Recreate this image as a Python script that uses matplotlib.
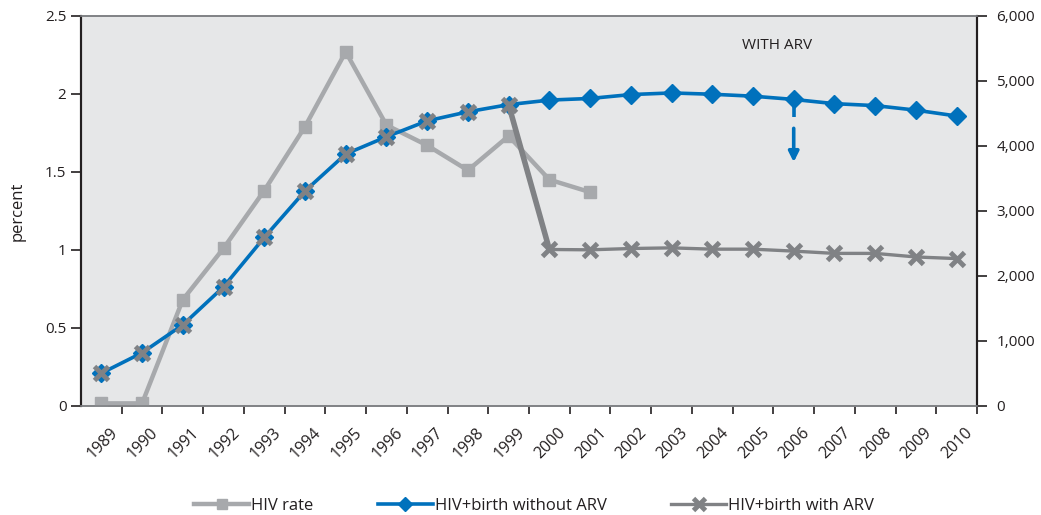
import matplotlib
matplotlib.use("Agg")
import matplotlib.pyplot as plt
import numpy as np

plt.rcParams['font.family'] = ['Open Sans', 'DejaVu Sans']

years = [str(y) for y in range(1989, 2011)]

# left axis (percent)
hiv_rate = [0.015, 0.015, 0.68, 1.01, 1.38, 1.79, 2.27, 1.80, 1.67, 1.51, 1.73, 1.45, 1.37]

# right axis (counts)
birth_no_arv = [500, 815, 1245, 1830, 2590, 3305, 3875, 4140, 4385, 4525, 4635,
                4705, 4730, 4790, 4815, 4795, 4765, 4715, 4650, 4620, 4550, 4460]
birth_arv = [500, 815, 1245, 1830, 2590, 3305, 3875, 4140, 4385, 4525, 4635,
             2405, 2400, 2420, 2430, 2410, 2410, 2380, 2345, 2345, 2290, 2265]

BLUE = '#0071BC'
LGRAY = '#A7A9AC'
DGRAY = '#808285'
TXT = '#231F20'

x = np.arange(len(years))

fig = plt.figure(figsize=(10.41, 5.15), dpi=100)
ax = fig.add_axes([0.0778, 0.2122, 0.8607, 0.7568])
ax2 = ax.twinx()
ax.set_facecolor('#E6E7E8')
ax2.patch.set_visible(False)

# HIV rate
ax.plot(x[:len(hiv_rate)], hiv_rate, color=LGRAY, lw=3.2, marker='s', ms=9,
        label='HIV rate', zorder=3)

# without ARV
ax2.plot(x, birth_no_arv, color=BLUE, lw=2.6, marker='D', ms=9,
         label='HIV+birth without ARV', zorder=3)

# with ARV: thick drop 1999->2000, thinner after
ax2.plot(x[10:12], birth_arv[10:12], color=DGRAY, lw=4, zorder=4)
ax2.plot(x[11:], birth_arv[11:], color=DGRAY, lw=2.4, zorder=4)
ax2.plot(x, birth_arv, ls='none', marker='x', ms=10, mew=3.5, color=DGRAY, zorder=5)
arv_handle, = ax2.plot([], [], color=DGRAY, lw=2.4, marker='x', ms=10, mew=3.5,
                       label='HIV+birth with ARV')

# dashed arrow down from 2006
i06 = years.index('2006')
ax2.plot([i06, i06], [birth_no_arv[i06], 4440], color=BLUE, lw=2.6,
         solid_capstyle='butt', zorder=2)
ax2.annotate('', xy=(i06, 3750), xytext=(i06, 4270),
             arrowprops=dict(arrowstyle='-|>', color=BLUE, lw=2.6,
                             mutation_scale=15, shrinkA=0, shrinkB=0))
ax2.text(i06 - 0.4, 5550, 'WITH ARV', ha='center', va='center', fontsize=11, color=TXT)

ax.set_xlim(-0.5, len(years) - 0.5)
ax.set_ylim(0, 2.5)
ax2.set_ylim(0, 6000)
ax.set_yticks([0, 0.5, 1, 1.5, 2, 2.5])
ax.set_yticklabels(['0', '0.5', '1', '1.5', '2', '2.5'])
ax2.set_yticks(range(0, 6001, 1000))
ax2.set_yticklabels([f'{v:,}' for v in range(0, 6001, 1000)])
ax.set_ylabel('percent', fontsize=12, color=TXT, labelpad=14)

ax.set_xticks(x + 0.5)
ax.set_xticklabels([])
ax.set_xticks(x + 0.2, minor=True)
ax.set_xticklabels(years, minor=True, rotation=45, ha='right', va='top',
                   rotation_mode='anchor', fontsize=11.5, color=TXT)
ax.tick_params(axis='x', which='minor', length=0, pad=14)
ax.tick_params(axis='x', which='major', length=6, width=1.2, color=TXT)
ax.tick_params(axis='y', length=7, width=1.2, color=TXT, labelsize=11, labelcolor=TXT)
ax2.tick_params(axis='y', length=7, width=1.2, color=TXT, labelsize=11, labelcolor=TXT, pad=7)

for a in (ax, ax2):
    a.spines['top'].set_color(DGRAY)
    a.spines['top'].set_linewidth(1.2)
    a.spines['bottom'].set_color(DGRAY)
    a.spines['bottom'].set_linewidth(1.2)
    a.spines['left'].set_color(TXT)
    a.spines['left'].set_linewidth(1.5)
    a.spines['right'].set_color(TXT)
    a.spines['right'].set_linewidth(1.5)

h1, l1 = ax.get_legend_handles_labels()
h2, l2 = ax2.get_legend_handles_labels()
fig.legend(h1 + h2, l1 + l2, loc='center', bbox_to_anchor=(0.513, 0.018), ncol=3,
           frameon=False, fontsize=12, handlelength=3.3, handletextpad=0.1,
           columnspacing=3.9, labelcolor=TXT, markerscale=0.8)

fig.savefig('out.png', dpi=100)
